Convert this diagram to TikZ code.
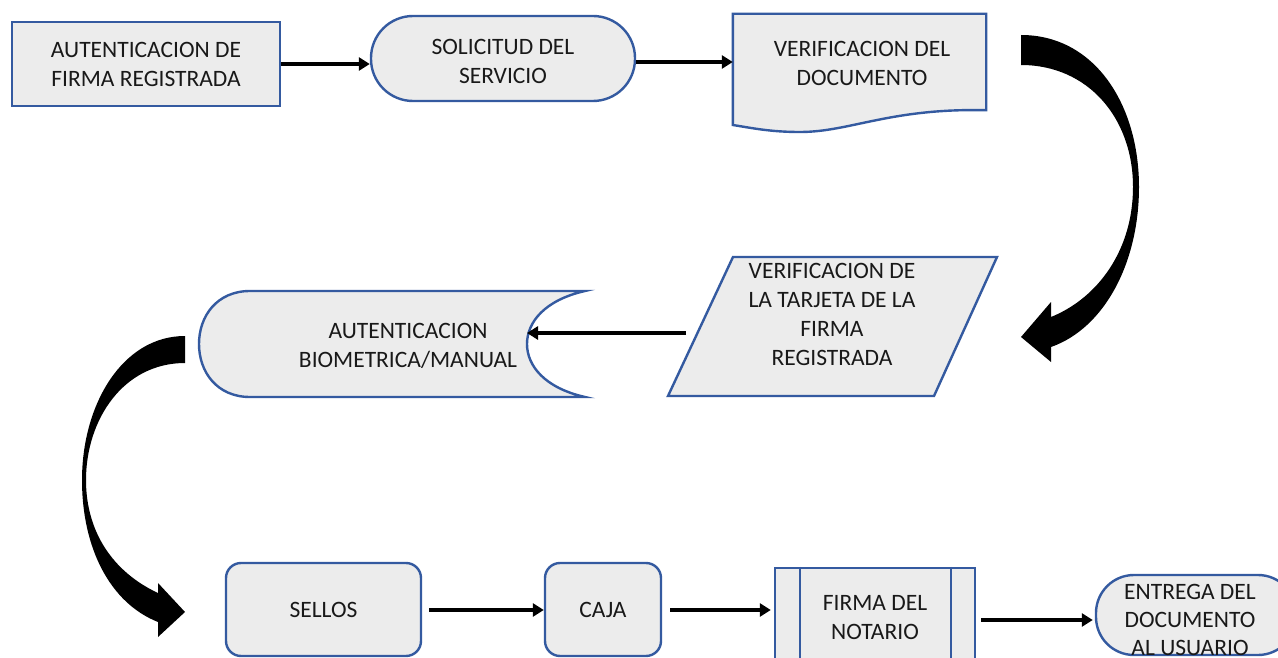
\documentclass[tikz,border=0pt]{standalone}
\usepackage{fontspec}
\setmainfont{Carlito}
\usetikzlibrary{arrows.meta}
\definecolor{bblue}{RGB}{52,90,160}
\definecolor{bfill}{RGB}{236,236,236}
\definecolor{txt}{RGB}{25,25,25}
\begin{document}
\begin{tikzpicture}[x=1pt,y=-1pt,
  shp/.style={draw=bblue, fill=bfill, line width=2.4pt},
  box/.style={shp, align=center, inner sep=0pt, text=txt, font=\fontsize{23.5}{29}\selectfont},
  lbl/.style={align=center, inner sep=0pt, text=txt, font=\fontsize{23.5}{29}\selectfont},
  ghost/.style={inner sep=0pt},
  arr/.style={line width=3.6pt, -{Triangle[length=11pt,width=13pt]}},
  bigarrow/.style={fill=black}]
\useasboundingbox (0,0) rectangle (1278,658);
\clip (0,0) rectangle (1278,658);

% row 1
\node[box, minimum width=268pt, minimum height=84pt] (A) at (146,64) {AUTENTICACION DE\\FIRMA REGISTRADA};
\node[shp, minimum width=264pt, minimum height=85pt, rounded corners=42pt] (B) at (503,58.5) {};
\node[lbl] (Bt) at (503,61.5) {SOLICITUD DEL\\SERVICIO};

\node[ghost, minimum width=253pt, minimum height=96pt] (C) at (859.5,62) {};
\draw[shp] (C.north west) -- (C.north east) -- (C.south east)
  .. controls (890,108) and (850,132) .. (800,132)
  .. controls (770,132) and (752,128) .. (C.south west |- 0,125) -- cycle;
\node[lbl] (Ct) at (862,63) {VERIFICACION DEL\\DOCUMENTO};

% row 2
\coordinate (D1) at (733,257);
\coordinate (D2) at (997,257);
\coordinate (D3) at (934,396);
\coordinate (D4) at (668,396);
\draw[shp] (D1) -- (D2) -- (D3) -- (D4) -- cycle;
\node[lbl] (D) at (832,314) {VERIFICACION DE\\LA TARJETA DE LA\\FIRMA\\REGISTRADA};
\coordinate (Dout) at (686,333);

\draw[shp] (250,291) -- (585,291)
  .. controls (545,300) and (527,322) .. (527,344)
  .. controls (527,366) and (545,388) .. (585,397)
  -- (250,397)
  .. controls (217,397) and (199,372) .. (199,344)
  .. controls (199,316) and (217,291) .. (250,291) -- cycle;
\node[lbl] (E) at (408,345.5) {AUTENTICACION\\BIOMETRICA/MANUAL};
\coordinate (Ein) at (527,333);

% row 3
\node[box, minimum width=195pt, minimum height=93pt, rounded corners=15pt] (F) at (323.5,609.5) {SELLOS};
\node[box, minimum width=116pt, minimum height=93pt, rounded corners=15pt] (G) at (603,609.5) {CAJA};
\node[shp, minimum width=200pt, minimum height=100pt] (H) at (875,618) {};
\draw[bblue, line width=2.4pt] ([xshift=26pt]H.north west) -- ([xshift=26pt]H.south west);
\draw[bblue, line width=2.4pt] ([xshift=-25pt]H.north east) -- ([xshift=-25pt]H.south east);
\node[lbl] (Ht) at (875,617.5) {FIRMA DEL\\NOTARIO};
\node[shp, minimum width=200pt, minimum height=80pt, rounded corners=38pt] (I) at (1196,615) {};
\node[lbl, font=\fontsize{23.5}{28}\selectfont] (It) at (1190,620) {ENTREGA DEL\\DOCUMENTO\\AL USUARIO};

% connectors
\draw[arr] (A.east) -- (B.west |- A.east);
\draw[arr] (B.east |- 0,62) -- (C.west |- 0,62);
\draw[arr] (Dout) -- (Ein);
\draw[arr] ([xshift=7pt]F.east |- 0,610) -- (G.west |- 0,610);
\draw[arr] ([xshift=8pt]G.east |- 0,610) -- ([xshift=-3pt]H.west |- 0,610);
\draw[arr] ([xshift=5pt]H.east |- 0,620) -- ([xshift=-2pt]I.west |- 0,620);

% big curved arrows
\fill[bigarrow] (1021,35) .. controls (1095,35) and (1139,105) .. (1139,187)
  .. controls (1139,262) and (1105,328) .. (1051,347)
  -- (1051,362) -- (1021,337) -- (1051,302) -- (1051,317)
  .. controls (1098,298) and (1133,250) .. (1133,187)
  .. controls (1133,118) and (1088,65) .. (1021,65) -- cycle;
\fill[bigarrow] (185,336) .. controls (122,336) and (82,405) .. (82,480)
  .. controls (82,548) and (110,603) .. (158,622)
  -- (158,637) -- (185,612) -- (158,583) -- (158,593)
  .. controls (113,572) and (86,532) .. (86,480)
  .. controls (86,420) and (123,363) .. (185,363) -- cycle;
\end{tikzpicture}
\end{document}
